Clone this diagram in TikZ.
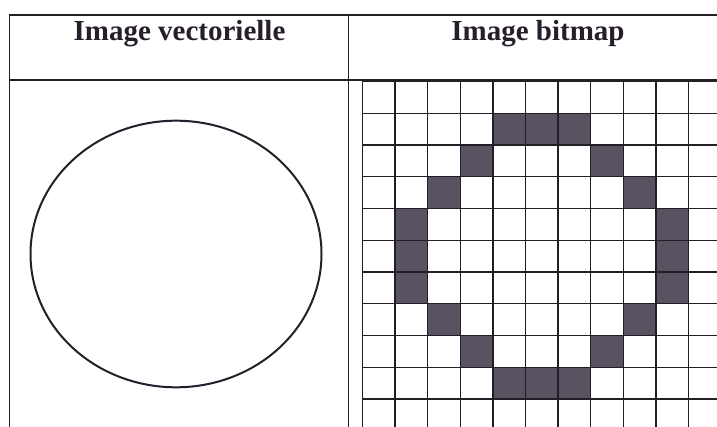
\documentclass[tikz,border=0pt]{standalone}
\usepackage{fontspec}
\setmainfont{Liberation Serif}
\definecolor{pxink}{RGB}{38,30,42}
\definecolor{pxline}{RGB}{35,30,38}
\definecolor{pxfill}{RGB}{90,82,96}

\begin{document}
\begin{tikzpicture}[x=1pt,y=-1pt,
    every node/.style={font=\fontsize{29}{33}\selectfont\bfseries,text=pxink},
    rule/.style={draw=pxline,line width=1.5pt},
    gridline/.style={draw=pxline,line width=1.4pt},
    cell/.style={fill=pxfill}]

  \useasboundingbox (0,0) rectangle (717,427);
  \clip (0,0) rectangle (717,427);

  %% Bitmap pixels
  \foreach \c/\r in {4/1,5/1,6/1,3/2,7/2,2/3,8/3,1/4,1/5,1/6,9/4,9/5,9/6,
                     2/7,8/7,3/8,7/8,4/9,5/9,6/9}
    \fill[cell] (362.5+32.6*\c,81.5+31.75*\r) rectangle ++(32.6,31.75);

  %% Bitmap grid
  \foreach \i in {0,...,11}
    \draw[gridline] (362.5+32.6*\i,81.5) -- (362.5+32.6*\i,430);
  \foreach \j in {0,...,11}
    \draw[gridline] (362.5,81.5+31.75*\j) -- (730,81.5+31.75*\j);

  %% Table frame
  \draw[rule] (9.5,430) -- (9.5,15) -- (730,15);
  \draw[rule] (9.5,80) -- (730,80);
  \draw[rule] (348.5,15) -- (348.5,430);

  %% Headers
  \node[anchor=base] (vec) at (179.5,41) {Image vectorielle};
  \node[anchor=base] (bmp) at (538,41) {Image bitmap};

  %% Vector circle
  \draw[pxink,line width=2pt] (176,254) ellipse [x radius=145.5,y radius=133.3];
\end{tikzpicture}
\end{document}
